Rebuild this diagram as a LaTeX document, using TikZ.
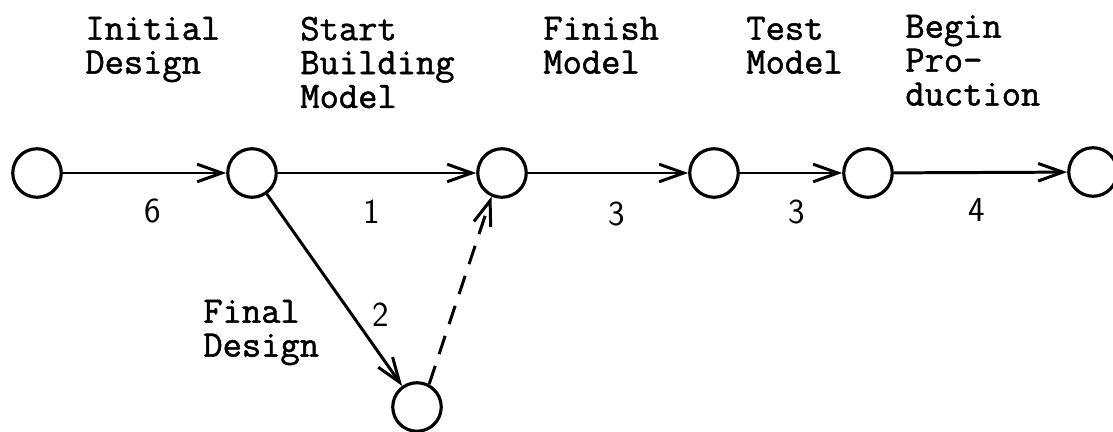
\documentclass[tikz,border=0pt]{standalone}
\usepackage{fontspec}
\newfontfamily\typewriter[FakeBold=1.4]{Latin Modern Mono}
\usetikzlibrary{arrows.meta}
\begin{document}
\begin{tikzpicture}[x=0.02cm, y=-0.02cm,
	event/.style={circle, draw, line width=1.8pt, minimum size=0.97cm, inner sep=0pt},
	activity/.style={-{Straight Barb[length=14pt,width=10pt]}, line width=1.7pt},
	dummy/.style={activity, dash pattern=on 11pt off 7pt},
	caption/.style={anchor=north west, align=left, inner sep=0pt, font=\fontsize{21.3}{19.3}\selectfont\typewriter},
	duration/.style={inner sep=0pt, font=\fontsize{20}{20}\selectfont\sffamily}]
	
	\useasboundingbox (0,0) rectangle (1113,432);
	
	%Events
	\node (evInit) at (37,173) [event]{};
	\node (evStart) at (252,173) [event]{};
	\node (evFinish) at (502,173) [event]{};
	\node (evTest) at (714,173) [event]{};
	\node (evBegin) at (868,173) [event]{};
	\node (evEnd) at (1093,172) [event]{};
	\node (evFinal) at (417,407) [event]{};
	
	%Activities
	\draw[activity] (evInit) -- (evStart);
	\draw[activity] (evStart) -- (evFinish);
	\draw[activity] (evFinish) -- (evTest);
	\draw[activity] (evTest) -- (evBegin);
	\draw[activity] (evBegin) -- (evEnd);
	\draw[activity] (evStart) -- (evFinal);
	
	%Dummy activity
	\draw[dummy] (evFinal.62) -- (evFinish.246);
	
	%Durations
	\node (durInit) at (153,211) [duration]{6};
	\node (durStart) at (372,212) [duration]{1};
	\node (durFinish) at (617,214) [duration]{3};
	\node (durTest) at (797,212) [duration]{3};
	\node (durBegin) at (977,210) [duration]{4};
	\node (durFinal) at (381,315) [duration]{2};
	
	%Activity names
	\node (initDesign) at (85,16.5) [caption]{Initial\\Design};
	\node (startModel) at (300,16.5) [caption]{Start\\Building\\Model};
	\node (finishModel) at (543,16.5) [caption]{Finish\\Model};
	\node (testModel) at (746,16.5) [caption]{Test\\Model};
	\node (beginProd) at (905,14.5) [caption]{Begin\\Pro-\\duction};
	\node (finalDesign) at (203,299.5) [caption]{Final\\Design};
	
\end{tikzpicture}
\end{document}
